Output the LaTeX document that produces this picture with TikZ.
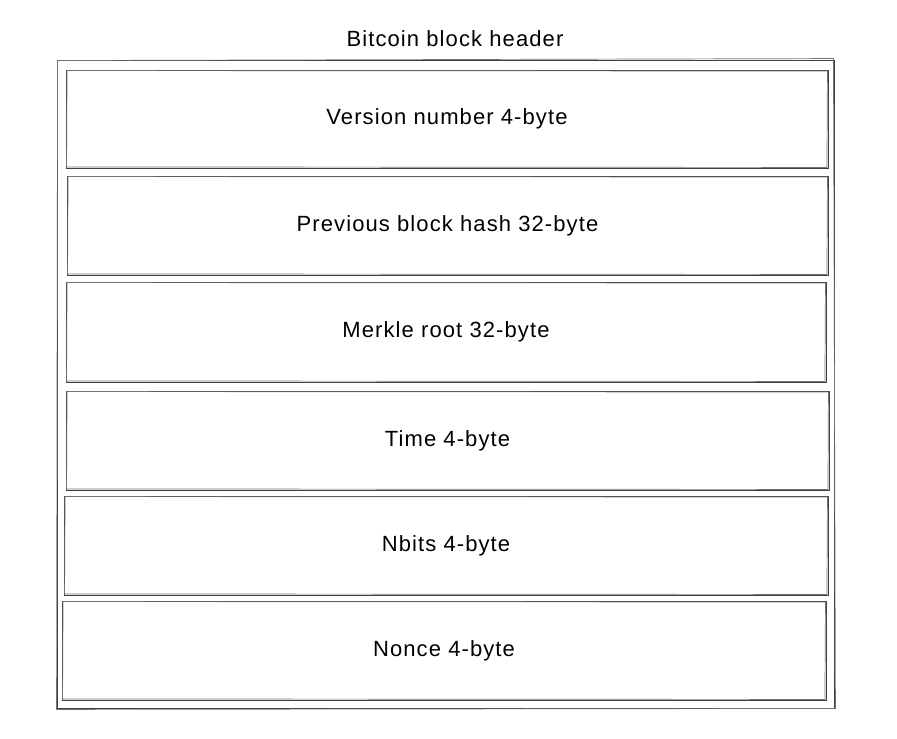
\documentclass[tikz,border=0pt]{standalone}
\usepackage{fontspec}
\setmainfont{Liberation Sans}[LetterSpace=5]
\tikzset{
  field/.style={draw=black!75, line width=0.9pt, inner sep=0pt, font=\fontsize{22}{26}\selectfont},
  sketch/.style={draw=black!55, line width=0.7pt},
}
\begin{document}
\begin{tikzpicture}[x=1pt,y=1pt]
\useasboundingbox (0,0) rectangle (897,739);
% title
\node[font=\fontsize{22}{26}\selectfont] (title) at (455,700) {Bitcoin block header};
% outer frame
\node[field, minimum width=777pt, minimum height=648pt] (outer) at (445.5,355) {};
\draw[sketch] ([shift={(1,-1)}]outer.north west) -- ([shift={(-1,1)}]outer.north east) -- ([shift={(1,0)}]outer.south east) -- ([shift={(0,-1)}]outer.south west) -- cycle;
% fields
\foreach \nm/\cx/\cy/\w/\h/\txt in {
  f1/447/620/762/98/{Version number 4-byte},
  f2/447.5/513.5/761/99/{Previous block hash 32-byte},
  f3/446/407/760/100/{Merkle root 32-byte},
  f4/447.5/298.5/763/99/{Time 4-byte},
  f5/446/193.5/764/99/{Nbits 4-byte},
  f6/444/88.5/764/99/{Nonce 4-byte}}{
  \node[field, minimum width=\w pt, minimum height=\h pt] (\nm) at (\cx,\cy) {\raisebox{-3pt}{\txt}};
  \draw[sketch] ([shift={(1.5,-1)}]\nm.north west) -- ([shift={(-1,-1.5)}]\nm.north east) -- ([shift={(-1.5,1)}]\nm.south east) -- ([shift={(1,1.5)}]\nm.south west) -- cycle;
}
\end{tikzpicture}
\end{document}
